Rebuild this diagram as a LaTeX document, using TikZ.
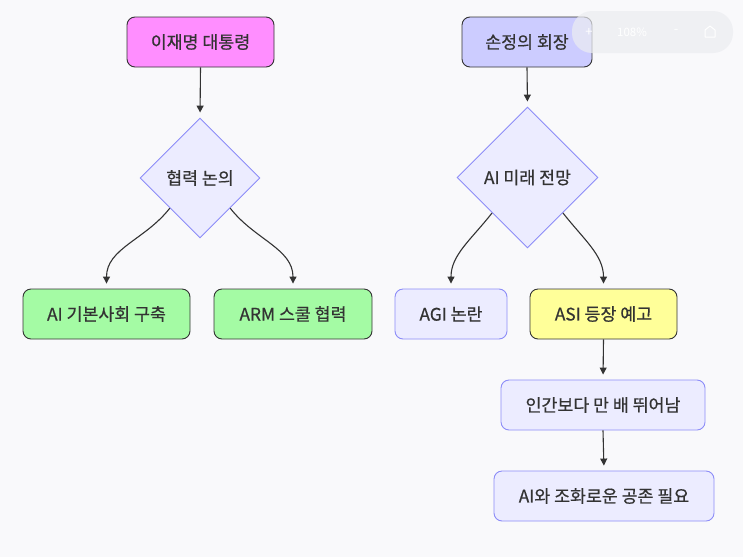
\documentclass[tikz,border=0pt]{standalone}
\usepackage{fontspec}
\setmainfont{Noto Sans CJK KR}
\newfontfamily\lblfont{Noto Sans CJK KR}[FakeBold=0.6]
\usetikzlibrary{shapes.geometric,arrows.meta}
\definecolor{bg}{HTML}{F9F9FB}
\definecolor{txt}{HTML}{333333}
\definecolor{edge}{HTML}{333333}
\definecolor{pinkf}{HTML}{FF8EFF}
\definecolor{lilacf}{HTML}{CCCCFF}
\definecolor{greenf}{HTML}{A4FBA4}
\definecolor{yellowf}{HTML}{FFFF99}
\definecolor{palef}{HTML}{ECECFF}
\definecolor{blues}{HTML}{8C8CF8}
\definecolor{pill}{HTML}{ECEDF1}
\begin{document}
\begin{tikzpicture}[x=1pt,y=-1pt,
  lbl/.style={text=txt,font=\lblfont\fontsize{17.3}{20}\selectfont},
  darkbox/.style={lbl,rectangle,rounded corners=8pt,draw=edge,line width=0.9pt,minimum height=50pt,inner sep=0pt},
  bluebox/.style={lbl,rectangle,rounded corners=8pt,draw=blues,fill=palef,line width=0.9pt,minimum height=50pt,inner sep=0pt},
  decision/.style={lbl,diamond,draw=blues,fill=palef,line width=0.9pt,inner sep=0pt,aspect=1},
  arr/.style={draw=edge,line width=1.1pt,-{Triangle[length=7pt,width=7pt]},shorten >=5pt}
]
\useasboundingbox[fill=bg] (0,0) rectangle (743,557);

% left tree
\node[darkbox,fill=pinkf,minimum width=147pt] (n1) at (200.5,42) {이재명 대통령};
\node[decision,minimum size=120pt] (d1) at (200,178) {협력 논의};
\node[darkbox,fill=greenf,minimum width=167pt] (b1) at (106.5,314) {AI 기본사회 구축};
\node[darkbox,fill=greenf,minimum width=158pt] (b2) at (293,314) {ARM 스쿨 협력};

% right tree
\node[darkbox,fill=lilacf,minimum width=130pt] (n2) at (527,42) {손정의 회장};
\node[decision,minimum size=141pt] (d2) at (527.5,177.5) {AI 미래 전망};
\node[bluebox,minimum width=112pt] (b3) at (451,314) {AGI 논란};
\node[darkbox,fill=yellowf,minimum width=147pt] (b4) at (603.5,314) {ASI 등장 예고};
\node[bluebox,minimum width=204pt] (b5) at (603,405) {인간보다 만 배 뛰어남};
\node[bluebox,minimum width=220pt] (b6) at (604,496) {AI와 조화로운 공존 필요};

% connectors
\draw[arr] (n1.south) -- (d1.north);
\draw[arr] (d1.south west) to[out=-128,in=90] (b1.north);
\draw[arr] (d1.south east) to[out=-52,in=90] (b2.north);
\draw[arr] (n2.south) -- (d2.north);
\draw[arr] (d2.south west) to[out=-128,in=90] (b3.north);
\draw[arr] (d2.south east) to[out=-52,in=90] (b4.north);
\draw[arr] (b4.south) -- (b5.north);
\draw[arr] (b5.south) -- (b6.north);

% viewer zoom overlay
\fill[pill,opacity=0.7,rounded corners=20pt] (572,11) rectangle (733,53);
\node[text=white,font=\fontsize{13}{15}\selectfont] (zp) at (589,32) {+};
\node[text=white,font=\fontsize{11.5}{14}\selectfont] (zv) at (632,32) {108\%};
\node[text=white,font=\fontsize{13}{15}\selectfont] (zm) at (676,31) {-};
\draw[white,line width=1pt,line join=round] (705,37) -- (705,30) -- (710,26) -- (715,30) -- (715,37) -- cycle;
\end{tikzpicture}
\end{document}
